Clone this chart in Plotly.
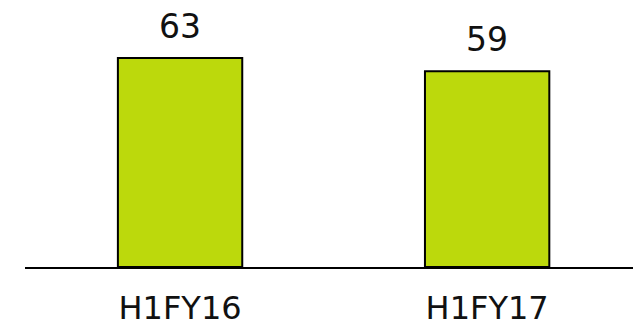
import plotly.graph_objects as go

categories = ["H1FY16", "H1FY17"]
values = [63, 59]
labels = ["63", "59"]

fig = go.Figure()
fig.add_trace(go.Bar(
    x=categories, y=values, width=0.405,
    marker=dict(color="#bcd90c", line=dict(color="black", width=2)),
    hoverinfo="skip",
))
for c, v, t in zip(categories, values, labels):
    fig.add_annotation(x=c, y=v, text=t, showarrow=False, yanchor="bottom",
                       yshift=10, font=dict(family="DejaVu Sans", size=33, color="#111"))

fig.update_layout(
    width=633, height=331,
    margin=dict(l=25, r=0, t=0, b=64),
    plot_bgcolor="white", paper_bgcolor="white",
    showlegend=False,
    xaxis=dict(range=[-0.505, 1.475], showline=True, linecolor="black", linewidth=2,
               showgrid=False, zeroline=False, ticks="", automargin=False,
               tickfont=dict(family="DejaVu Sans", size=32, color="#111"),
               ticklabelstandoff=12),
    yaxis=dict(range=[0, 80.5], visible=False, showgrid=False, zeroline=False,
               automargin=False),
)
fig.write_html("out.html")
